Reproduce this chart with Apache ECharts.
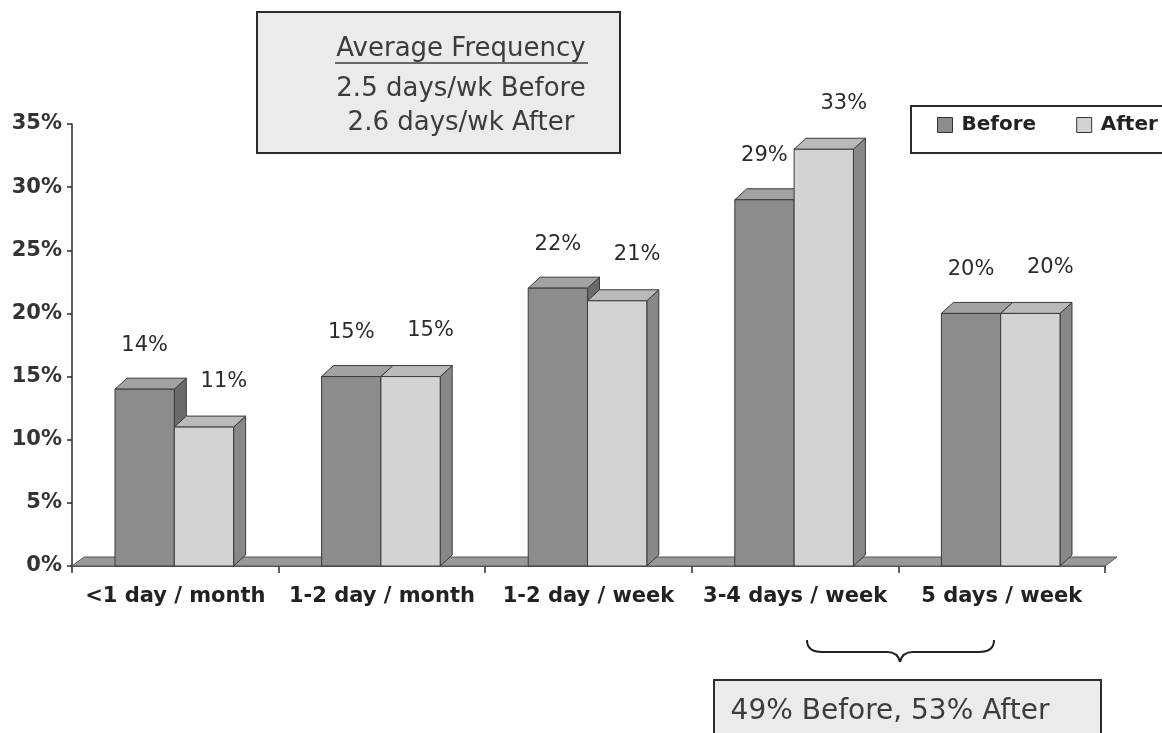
<!DOCTYPE html>
<html>
<head>
<meta charset="utf-8">
<title>Average Frequency</title>
<script src="https://cdn.jsdelivr.net/npm/echarts@6/dist/echarts.min.js"></script>
<style>
  html, body { margin: 0; padding: 0; background: #ffffff; }
  #chart { width: 1162px; height: 733px; }
</style>
</head>
<body>
<div id="chart"></div>
<script>
// Frequency categories and the share of respondents before / after
const categories = ['<1 day / month', '1-2 day / month', '1-2 day / week', '3-4 days / week', '5 days / week'];
const beforeValues = [14, 15, 22, 29, 20];
const afterValues = [11, 15, 21, 33, 20];
const seriesNames = ['Before', 'After'];
const yTicks = [0, 5, 10, 15, 20, 25, 30, 35];

const FONT = '"DejaVu Sans", "Liberation Sans", Arial, sans-serif';
const DEPTH_X = 12, DEPTH_Y = 11;

// face colours per series: front, top, side
const faces = [
  { front: '#8c8c8c', top: '#a2a2a2', side: '#6a6a6a' },
  { front: '#d3d3d3', top: '#bababa', side: '#888888' }
];
// label nudges per series (before sits over its column, after to the right)
const labelShift = [[0, -44], [20, -46]];

function makeBarRenderer(seriesIdx) {
  return function (params, api) {
    const cat = api.value(0);
    const val = api.value(1);
    const top = api.coord([cat, val]);
    const base = api.coord([cat, 0]);
    const catW = api.size([1, 0])[0];
    const barW = catW * 0.287;
    const x0 = seriesIdx === 0 ? top[0] - barW - 1 : top[0] - 1;
    const x1 = x0 + barW;
    const yt = top[1], yb = base[1];
    const f = faces[seriesIdx];
    const stroke = { stroke: '#3a3a3a', lineWidth: 1, lineJoin: 'round' };
    return {
      type: 'group',
      children: [
        { type: 'polygon', shape: { points: [[x1, yb], [x1 + DEPTH_X, yb - DEPTH_Y], [x1 + DEPTH_X, yt - DEPTH_Y], [x1, yt]] },
          style: Object.assign({ fill: f.side }, stroke) },
        { type: 'polygon', shape: { points: [[x0, yt], [x0 + DEPTH_X, yt - DEPTH_Y], [x1 + DEPTH_X, yt - DEPTH_Y], [x1, yt]] },
          style: Object.assign({ fill: f.top }, stroke) },
        { type: 'rect', shape: { x: x0, y: yt, width: barW, height: yb - yt },
          style: Object.assign({ fill: f.front }, stroke) },
        { type: 'text', x: (x0 + x1) / 2 + labelShift[seriesIdx][0], y: yt + labelShift[seriesIdx][1],
          style: { text: val + '%', fill: '#2b2b2b', font: '21px ' + FONT, align: 'center', verticalAlign: 'middle' } }
      ]
    };
  };
}

// gray floor slab under the columns
function renderFloor(params, api) {
  const cs = params.coordSys;
  const yb = cs.y + cs.height;
  const xl = cs.x, xr = cs.x + cs.width;
  return {
    type: 'polygon',
    shape: { points: [[xl, yb], [xl + DEPTH_X, yb - 9], [xr + DEPTH_X, yb - 9], [xr, yb]] },
    style: { fill: '#999999', stroke: '#555', lineWidth: 1 }
  };
}

const chart = echarts.init(document.getElementById('chart'), null, { renderer: 'canvas' });

const braceStyle = { fill: 'none', stroke: '#222', lineWidth: 2 };
const boxText = (txt, y) => ({
  type: 'text', z: 11, x: 461, y: y,
  style: { text: txt, font: '26px ' + FONT, fill: '#3c3c3c', align: 'center', verticalAlign: 'middle' }
});

chart.setOption({
  backgroundColor: '#ffffff',
  animation: false,
  grid: { left: 72, right: 57, top: 124, bottom: 167 },
  legend: {
    data: seriesNames,
    orient: 'horizontal',
    left: 937, top: 115, width: 260, padding: 0,
    itemWidth: 15, itemHeight: 15, itemGap: 40,
    icon: 'rect',
    itemStyle: { borderColor: '#333', borderWidth: 1 },
    textStyle: { fontFamily: FONT, fontWeight: 'bold', fontSize: 20, color: '#222', padding: [0, 0, 0, 4] }
  },
  xAxis: {
    type: 'category',
    data: categories,
    boundaryGap: true,
    axisLine: { lineStyle: { color: '#2a2a2a', width: 1.5 } },
    axisTick: { show: true, length: 7, lineStyle: { color: '#2a2a2a', width: 1.5 } },
    axisLabel: { fontFamily: FONT, fontWeight: 'bold', fontSize: 21, color: '#222', margin: 20, interval: 0 },
    splitLine: { show: false }
  },
  yAxis: {
    type: 'value',
    min: yTicks[0], max: yTicks[yTicks.length - 1], interval: 5,
    axisLine: { show: true, lineStyle: { color: '#2a2a2a', width: 1.5 } },
    axisTick: { show: true, length: 5, lineStyle: { color: '#2a2a2a', width: 1.5 } },
    axisLabel: { fontFamily: FONT, fontWeight: 'bold', fontSize: 21, color: '#333', margin: 10, formatter: '{value}%' },
    splitLine: { show: false }
  },
  graphic: [
    // frequency summary box
    { type: 'rect', z: 10, shape: { x: 257, y: 12, width: 363, height: 141 },
      style: { fill: '#ebebeb', stroke: '#2c2c2c', lineWidth: 2 } },
    boxText('Average Frequency', 49),
    { type: 'line', z: 11, shape: { x1: 335, y1: 63, x2: 588, y2: 63 }, style: { stroke: '#3c3c3c', lineWidth: 1.5 } },
    boxText('2.5 days/wk Before', 89),
    boxText('2.6 days/wk After', 123),
    // legend frame
    { type: 'rect', z: 0, shape: { x: 911, y: 106, width: 270, height: 47 },
      style: { fill: '#ffffff', stroke: '#2c2c2c', lineWidth: 2 } },
    // brace grouping the two most frequent categories
    { type: 'bezierCurve', z: 10, shape: { x1: 807, y1: 640, cpx1: 807, cpy1: 652, x2: 822, y2: 652 }, style: braceStyle },
    { type: 'line', z: 10, shape: { x1: 822, y1: 652, x2: 887, y2: 652 }, style: braceStyle },
    { type: 'bezierCurve', z: 10, shape: { x1: 887, y1: 652, cpx1: 898, cpy1: 652, x2: 900, y2: 662 }, style: braceStyle },
    { type: 'bezierCurve', z: 10, shape: { x1: 900, y1: 662, cpx1: 902, cpy1: 652, x2: 913, y2: 652 }, style: braceStyle },
    { type: 'line', z: 10, shape: { x1: 913, y1: 652, x2: 979, y2: 652 }, style: braceStyle },
    { type: 'bezierCurve', z: 10, shape: { x1: 979, y1: 652, cpx1: 994, cpy1: 652, x2: 994, y2: 640 }, style: braceStyle },
    // combined share box
    { type: 'rect', z: 10, shape: { x: 714, y: 680, width: 387, height: 70 },
      style: { fill: '#ebebeb', stroke: '#2c2c2c', lineWidth: 2 } },
    { type: 'text', z: 11, x: 890, y: 712,
      style: { text: '49% Before, 53% After', font: '28px ' + FONT, fill: '#3c3c3c', align: 'center', verticalAlign: 'middle' } }
  ],
  series: [
    {
      name: 'floor', type: 'custom', silent: true, z: 1,
      itemStyle: { color: '#999999' },
      renderItem: renderFloor,
      data: [[0, 0]]
    },
    {
      name: seriesNames[0], type: 'custom', z: 3,
      itemStyle: { color: faces[0].front },
      renderItem: makeBarRenderer(0),
      encode: { x: 0, y: 1 },
      data: beforeValues.map((v, i) => [i, v])
    },
    {
      name: seriesNames[1], type: 'custom', z: 3,
      itemStyle: { color: faces[1].front },
      renderItem: makeBarRenderer(1),
      encode: { x: 0, y: 1 },
      data: afterValues.map((v, i) => [i, v])
    }
  ]
});
</script>
</body>
</html>
